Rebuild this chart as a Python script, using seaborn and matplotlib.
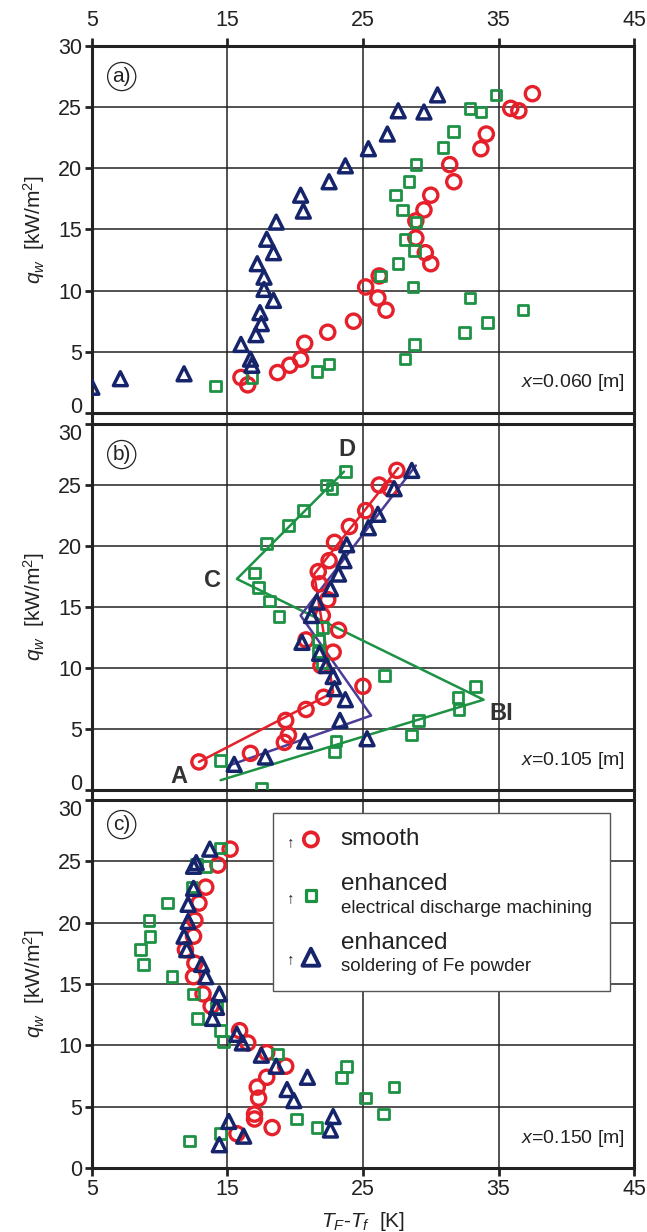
import numpy as np
import pandas as pd
import matplotlib
matplotlib.use("Agg")
import matplotlib.pyplot as plt
import matplotlib.transforms as mtransforms
from matplotlib.lines import Line2D
import seaborn as sns

# ---------------- data ----------------
# panel a) x = 0.060 m
a_circ_T = [37.5, 35.9, 36.5, 34.1, 33.7, 31.4, 31.7, 30.0, 29.5, 28.9, 28.9, 29.6, 30.0,
            26.2, 25.2, 26.1, 26.7, 24.3, 22.4, 20.7, 20.4, 19.6, 18.7, 16.0, 16.5]
a_circ_q = [26.1, 24.9, 24.7, 22.8, 21.6, 20.3, 18.9, 17.8, 16.6, 15.7, 14.3, 13.1, 12.2,
            11.2, 10.3, 9.4, 8.4, 7.5, 6.6, 5.7, 4.4, 3.9, 3.3, 2.9, 2.3]
a_sq_T = [34.8, 32.9, 33.7, 31.7, 30.9, 28.9, 28.4, 27.4, 27.9, 28.9, 28.1, 28.8, 27.6,
          26.3, 28.7, 32.9, 36.8, 34.2, 32.5, 28.8, 28.1, 22.5, 21.6, 16.8, 14.1]
a_sq_q = [26.0, 24.9, 24.6, 23.0, 21.7, 20.3, 18.9, 17.8, 16.6, 15.6, 14.2, 13.3, 12.2,
          11.2, 10.3, 9.4, 8.4, 7.4, 6.6, 5.6, 4.4, 4.0, 3.4, 2.9, 2.2]
a_tri_T = [30.5, 27.6, 29.5, 26.8, 25.4, 23.7, 22.5, 20.4, 20.6, 18.6, 17.9, 18.4, 17.2,
           17.7, 17.7, 18.4, 17.4, 17.5, 17.1, 16.0, 16.7, 16.8, 11.8, 7.1, 5.0]
a_tri_q = [26.0, 24.7, 24.6, 22.8, 21.6, 20.2, 18.9, 17.8, 16.5, 15.6, 14.2, 13.1, 12.2,
           11.1, 10.1, 9.2, 8.2, 7.3, 6.4, 5.6, 4.4, 3.9, 3.2, 2.8, 2.1]

# panel b) x = 0.105 m
b_circ_T = [27.5, 26.2, 27.0, 25.2, 24.0, 22.9, 22.5, 21.7, 21.8, 22.4, 22.0, 23.2, 20.8,
            22.8, 21.9, 25.0, 22.1, 20.8, 19.3, 19.5, 19.2, 16.7, 12.9]
b_circ_q = [26.2, 25.0, 24.7, 22.9, 21.6, 20.3, 18.8, 17.9, 16.9, 15.6, 14.3, 13.1, 12.3,
            11.3, 10.2, 8.5, 7.6, 6.6, 5.7, 4.5, 3.9, 3.0, 2.3]
b_sq_T = [23.7, 22.3, 22.7, 20.6, 19.5, 17.9, 17.0, 17.3, 18.1, 18.8, 22.0, 21.7, 21.7,
          22.0, 26.6, 33.3, 32.0, 32.1, 29.1, 28.6, 23.0, 22.9, 14.5, 17.5]
b_sq_q = [26.1, 25.0, 24.7, 22.9, 21.7, 20.2, 17.8, 16.6, 15.5, 14.2, 13.3, 12.3, 11.3,
          10.4, 9.4, 8.5, 7.6, 6.6, 5.7, 4.5, 4.0, 3.1, 2.4, 0.1]
b_tri_T = [28.6, 27.3, 26.1, 25.4, 23.8, 23.6, 23.2, 22.6, 21.6, 21.2, 20.5, 21.8, 22.3,
           22.8, 22.9, 23.7, 23.3, 25.3, 20.7, 17.8, 15.5]
b_tri_q = [26.2, 24.7, 22.6, 21.5, 20.1, 18.8, 17.7, 16.5, 15.4, 14.3, 12.1, 11.2, 10.2,
           9.3, 8.3, 7.4, 5.7, 4.2, 4.0, 2.7, 2.1]

# panel b) piecewise-linear fits
b_fit_sq_T = [14.5, 33.9, 15.7, 23.6]
b_fit_sq_q = [0.8, 7.4, 17.3, 26.1]
b_fit_circ_T = [12.9, 22.8, 21.4, 27.6]
b_fit_circ_q = [2.3, 8.0, 17.7, 26.4]
b_fit_tri_T = [15.1, 25.6, 20.4, 28.9]
b_fit_tri_q = [2.0, 6.1, 14.3, 26.6]

# panel c) x = 0.150 m
c_circ_T = [15.2, 14.3, 13.4, 12.9, 12.6, 12.5, 11.9, 12.6, 12.5, 13.2, 13.8, 15.9, 16.5,
            17.9, 19.3, 17.9, 17.2, 17.3, 17.0, 17.0, 18.3, 15.7]
c_circ_q = [26.0, 24.7, 22.9, 21.6, 20.2, 18.9, 17.8, 16.7, 15.6, 14.2, 13.2, 11.2, 10.2,
            9.4, 8.3, 7.4, 6.6, 5.7, 4.4, 4.0, 3.3, 2.8]
c_sq_T = [14.5, 12.7, 13.4, 12.4, 10.6, 9.2, 9.3, 8.6, 8.8, 10.9, 12.5, 14.2, 12.8, 14.5,
          14.7, 18.7, 23.8, 23.4, 27.3, 25.2, 26.5, 20.1, 21.6, 14.5, 12.2]
c_sq_q = [26.1, 24.8, 24.6, 22.9, 21.6, 20.2, 18.9, 17.8, 16.6, 15.6, 14.2, 13.1, 12.2,
          11.2, 10.3, 9.3, 8.3, 7.4, 6.6, 5.7, 4.4, 4.0, 3.3, 2.8, 2.2]
c_tri_T = [13.7, 12.5, 12.7, 12.5, 12.1, 12.1, 11.8, 12.0, 13.1, 13.4, 14.4, 14.2, 13.9,
           15.7, 16.1, 17.5, 18.6, 20.9, 19.4, 19.9, 22.8, 22.6, 15.1, 16.2, 14.4]
c_tri_q = [26.0, 24.6, 24.9, 22.8, 21.5, 20.1, 18.9, 17.8, 16.6, 15.6, 14.2, 13.1, 12.2,
           10.9, 10.2, 9.2, 8.3, 7.4, 6.4, 5.5, 4.2, 3.1, 3.8, 2.6, 1.9]

x_ticks = [5, 15, 25, 35, 45]
y_ticks = [0, 5, 10, 15, 20, 25, 30]
panel_tags = ["a)", "b)", "c)"]
position_texts = ["0.060", "0.105", "0.150"]
legend_main = ["smooth", "enhanced", "enhanced"]
legend_sub = ["", "electrical discharge machining", "soldering of Fe powder"]
point_labels = ["A", "BI", "C", "D"]
point_T = [11.4, 35.2, 13.9, 23.8]
point_q = [1.1, 6.3, 17.2, 27.9]

# ---------------- style ----------------
RED = "#e5202b"
GREEN = "#1d9244"
NAVY = "#16246c"
PURPLE = "#4b3d96"
INK = "#222222"

sns.set_style("ticks")
plt.rcParams["font.family"] = ["Liberation Sans", "DejaVu Sans"]
plt.rcParams["mathtext.fontset"] = "custom"
plt.rcParams["mathtext.rm"] = "Liberation Sans"
plt.rcParams["mathtext.it"] = "Liberation Sans:italic"

fig = plt.figure(figsize=(6.47, 12.32), dpi=100)
fig.patch.set_facecolor("white")

L, W = 0.142, 0.838
boxes = [(0.6648, 0.2979), (0.3588, 0.2970), (0.0519, 0.2987)]
axes = [fig.add_axes([L, b, W, h]) for b, h in boxes]

series = [
    [(a_circ_T, a_circ_q), (a_sq_T, a_sq_q), (a_tri_T, a_tri_q)],
    [(b_circ_T, b_circ_q), (b_sq_T, b_sq_q), (b_tri_T, b_tri_q)],
    [(c_circ_T, c_circ_q), (c_sq_T, c_sq_q), (c_tri_T, c_tri_q)],
]
styles = [("o", RED, 105, 2.4), ("s", GREEN, 58, 2.0), ("^", NAVY, 100, 2.5)]

for i, ax in enumerate(axes):
    ax.set_xlim(5, 45)
    ax.set_ylim(0, 30)
    ax.set_xticks(x_ticks)
    ax.set_yticks(y_ticks)
    ax.grid(True, color=INK, lw=1.1)
    ax.set_axisbelow(True)
    for sp in ax.spines.values():
        sp.set_visible(True)
        sp.set_linewidth(2.2)
        sp.set_color(INK)
    ax.tick_params(axis="y", direction="out", length=5, width=2.0, labelsize=15.5,
                   colors=INK, pad=2)
    ax.tick_params(axis="x", direction="out", length=6, width=2.0, labelsize=15.5,
                   colors=INK, pad=2)
    if i == 0:
        ax.xaxis.tick_top()
        ax.tick_params(axis="x", pad=5)
    elif i == 1:
        ax.tick_params(axis="x", length=0, labelbottom=False)
    # keep neighbouring "0" and "30" labels apart, as in the original
    yt = ax.yaxis.get_major_ticks()
    if i < 2:
        yt[0].label1.set_verticalalignment("baseline")
    if i > 0:
        yt[-1].label1.set_verticalalignment("top")

    for (T, q), (mk, col, s, lw) in zip(series[i], styles):
        df = pd.DataFrame({"T": T, "q": q})
        sns.scatterplot(data=df, x="T", y="q", ax=ax, marker=mk, s=s,
                        facecolor="none", edgecolor=col, linewidth=lw, zorder=3)
    ax.set_xlabel("")
    ax.set_ylabel(r"$q_w$  [kW/m$^2$]", fontsize=15, color=INK)
    ax.yaxis.set_label_coords(-0.083, 0.5)

    ax.text(7.2, 27.5 if i < 2 else 28.0, panel_tags[i], fontsize=15, color=INK,
            ha="center", va="center",
            bbox=dict(boxstyle="circle,pad=0.22", fc="white", ec=INK, lw=0.9))
    ax.text(44.3, 2.45, r"$x$=" + position_texts[i] + " [m]", fontsize=14,
            color=INK, ha="right", va="center")

# fits in panel b
axb = axes[1]
for T, q, col in [(b_fit_sq_T, b_fit_sq_q, GREEN), (b_fit_circ_T, b_fit_circ_q, RED),
                  (b_fit_tri_T, b_fit_tri_q, PURPLE)]:
    sns.lineplot(x=T, y=q, ax=axb, sort=False, estimator=None, color=col, lw=1.8,
                 zorder=2.5)
for lab, T, q in zip(point_labels, point_T, point_q):
    axb.text(T, q, lab, fontsize=17, fontweight="bold", color="#333333",
             ha="center", va="center")

# x label bottom
axes[2].set_xlabel(r"$T_F$-$T_f$  [K]", fontsize=15, color=INK, labelpad=7)

# legend in panel c (manual layout)
axc = axes[2]
leg_box = plt.Rectangle((0.334, 0.481), 0.621, 0.485, transform=axc.transAxes,
                        fc="white", ec="#555555", lw=1.0, zorder=5)
axc.add_patch(leg_box)
row_y = [0.893, 0.740, 0.573]
txt_y = [(0.893, None), (0.773, 0.706), (0.612, 0.547)]
for k, (mk, col, s, lw) in enumerate(styles):
    axc.scatter([0.404], [row_y[k]], transform=axc.transAxes, marker=mk,
                s=s * (1.0 if k != 2 else 1.5), facecolor="none", edgecolor=col,
                linewidth=lw + 0.3, zorder=6, clip_on=False)
    axc.text(0.366, row_y[k] - 0.006, "↑", transform=axc.transAxes, fontsize=11,
             color=INK, ha="center", va="center", zorder=6)
    main_y, sub_y = txt_y[k]
    axc.text(0.459, main_y, legend_main[k], transform=axc.transAxes, fontsize=17.5,
             color=INK, ha="left", va="center", zorder=6)
    if sub_y is not None:
        axc.text(0.459, sub_y, legend_sub[k], transform=axc.transAxes, fontsize=13.5,
                 color=INK, ha="left", va="center", zorder=6)

# continue spines and vertical grid lines through the gaps between panels
for upper, lower in [(axes[0], axes[1]), (axes[1], axes[2])]:
    y0 = upper.get_position().y0
    y1 = lower.get_position().y1
    tr = mtransforms.blended_transform_factory(upper.transData, fig.transFigure)
    for xv in x_ticks:
        lw = 2.2 if xv in (5, 45) else 1.1
        fig.add_artist(Line2D([xv, xv], [y1, y0], transform=tr, color=INK, lw=lw))

fig.savefig("out.png", dpi=100, facecolor="white")
